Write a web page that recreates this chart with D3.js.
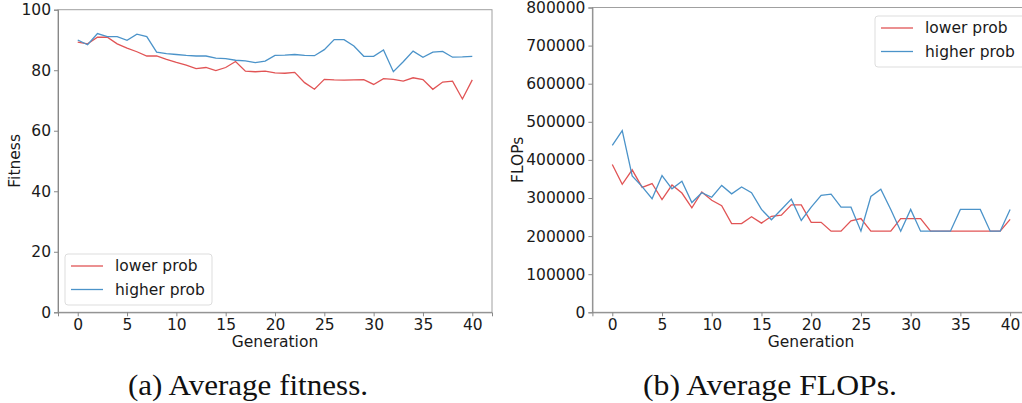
<!DOCTYPE html>
<html><head><meta charset="utf-8">
<script src="https://cdn.jsdelivr.net/npm/d3@7"></script>
<style>body{margin:0;background:#fff}svg{display:block}</style>
</head><body>
<svg id="c" width="1022" height="403"></svg>
<script>
const generations = d3.range(0, 41);
const fitnessLower = [89.3,88.7,90.9,90.9,88.7,87.3,86.1,84.7,84.7,83.6,82.6,81.7,80.5,80.9,79.9,80.9,82.9,79.7,79.5,79.7,79.1,79.0,79.3,75.9,73.7,77.0,76.8,76.7,76.8,76.9,75.3,77.2,77.0,76.4,77.5,76.9,73.7,76.1,76.4,70.5,76.8];
const fitnessHigher = [90.0,88.4,92.1,91.1,91.1,89.9,91.9,91.1,86.0,85.5,85.2,84.9,84.7,84.7,84.0,83.8,83.3,83.1,82.5,83.0,84.9,85.0,85.2,84.9,84.8,86.8,90.1,90.1,88.0,84.6,84.6,86.7,79.5,82.8,86.3,84.3,86.0,86.2,84.3,84.4,84.6];
const flopsLower = [388000,336000,374000,328000,338000,296000,334000,313000,274000,316000,294000,280000,233000,233000,251000,234000,252000,255000,282000,282000,236000,236000,213000,213000,240000,246000,213000,213000,213000,246000,246000,246000,213000,213000,213000,213000,213000,213000,213000,213000,244000];
const flopsHigher = [438000,477000,358000,330000,298000,359000,324000,344000,288000,314000,302000,333000,311000,329000,314000,270000,243000,270000,297000,241000,276000,307000,310000,276000,276000,213000,304000,323000,270000,213000,270000,213000,213000,213000,213000,270000,270000,270000,213000,213000,270000];
const xTicks = [0,5,10,15,20,25,30,35,40];
const fitnessTicks = [0,20,40,60,80,100];
const flopsTicks = [0,100000,200000,300000,400000,500000,600000,700000,800000];
const seriesNames = ["lower prob","higher prob"];
const colors = ["#e15455","#4b93c9"];

const svg = d3.select("#c");
const font = "'DejaVu Sans', sans-serif";
const fs = "15.5px";

function panel(o){
  const g = svg.append("g");
  const x = d3.scaleLinear().domain([-2,42]).range([o.left, o.right0]);
  const y = d3.scaleLinear().domain(o.ydom).range([312.3, o.top]);
  g.append("rect").attr("x", o.left).attr("y", o.top).attr("width", o.right0 - o.left).attr("height", 312.3 - o.top)
    .attr("fill","none").attr("stroke","#a0a0a0").attr("stroke-width",1);
  const xa = g.append("g").attr("transform","translate(0,312.3)")
    .call(d3.axisBottom(x).tickValues(xTicks).tickSize(4).tickPadding(3).tickFormat(d3.format("d")));
  const ya = g.append("g").attr("transform",`translate(${o.left},0)`)
    .call(d3.axisLeft(y).tickValues(o.yticks).tickSize(4).tickPadding(3).tickFormat(d3.format("d")));
  [xa,ya].forEach(a=>{
    a.select(".domain").attr("stroke","#888");
    a.selectAll(".tick line").attr("stroke","#888");
    a.selectAll("text").attr("font-family",font).attr("font-size",fs).attr("fill","#1a1a1a");
  });
  const line = d3.line().x((d,i)=>x(generations[i])).y(d=>y(d));
  o.series.forEach((s,k)=>{
    g.append("path").datum(s).attr("d",line).attr("fill","none").attr("stroke",colors[k]).attr("stroke-width",1.3);
  });
  g.append("text").attr("x",o.xlabX).attr("y",347).attr("text-anchor","middle")
    .attr("font-family",font).attr("font-size",fs).attr("fill","#1a1a1a").text("Generation");
  g.append("text").attr("transform",`translate(${o.ylabX},${(o.top+312)/2}) rotate(-90)`).attr("text-anchor","middle")
    .attr("dominant-baseline","middle")
    .attr("font-family",font).attr("font-size",fs).attr("fill","#1a1a1a").text(o.ylab);
  const L = o.legend;
  g.append("rect").attr("x",L.x).attr("y",L.y).attr("width",L.w).attr("height",L.h).attr("rx",3)
    .attr("fill","#fff").attr("fill-opacity",0.85).attr("stroke","#dddddd");
  seriesNames.forEach((n,k)=>{
    const yy = L.y + 12 + k*23.5;
    g.append("line").attr("x1",L.x+6).attr("x2",L.x+38).attr("y1",yy).attr("y2",yy).attr("stroke",colors[k]).attr("stroke-width",1.3);
    g.append("text").attr("x",L.x+50).attr("y",yy).attr("dominant-baseline","central")
      .attr("font-family",font).attr("font-size",fs).attr("fill","#1a1a1a").text(n);
  });
  svg.append("text").attr("x",o.capX).attr("y",395).attr("text-anchor","middle")
    .attr("font-family","'Liberation Serif', 'DejaVu Serif', serif").attr("font-size","29px").attr("fill","#111")
    .attr("textLength",o.capW).attr("lengthAdjust","spacingAndGlyphs").text(o.caption);
}

panel({left:58, right0:492, top:9.7, ydom:[0,100], yticks:fitnessTicks, series:[fitnessLower,fitnessHigher],
  ylab:"Fitness", ylabX:15, xlabX:275, legend:{x:65,y:254,w:147,h:51}, capX:248, capW:240, caption:"(a) Average fitness."});
panel({left:592.4, right0:1030, top:7.5, ydom:[0,800000], yticks:flopsTicks, series:[flopsLower,flopsHigher],
  ylab:"FLOPs", ylabX:518, xlabX:811, legend:{x:875,y:16,w:155,h:51}, capX:770, capW:254, caption:"(b) Average FLOPs."});
</script>
</body></html>
